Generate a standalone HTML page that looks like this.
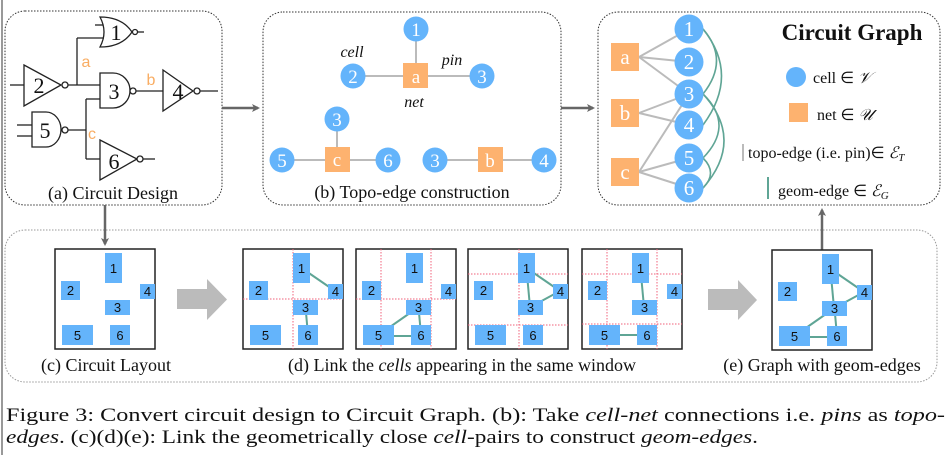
<!DOCTYPE html>
<html><head><meta charset="utf-8"><style>
html,body{margin:0;padding:0;background:#fff;width:949px;height:455px;overflow:hidden}
svg{display:block;font-family:"Liberation Serif","Times New Roman",Times,serif}
.s,.s text,.s tspan{font-family:"Liberation Serif","Times New Roman",Times,serif}
.ss,.ss text{font-family:"Liberation Sans",Arial,Helvetica,sans-serif}
</style></head><body>
<svg width="949" height="455" viewBox="0 0 949 455" xmlns="http://www.w3.org/2000/svg" font-family="Liberation Serif, Times New Roman, serif">
<defs>
<marker id="ah" markerWidth="8" markerHeight="8" refX="6" refY="4" orient="auto" markerUnits="userSpaceOnUse"><path d="M0,0 L8,4 L0,8 L2,4 Z" fill="#666"/></marker>
</defs>
<line x1="2" y1="0" x2="2" y2="455" stroke="#999" stroke-width="2"/>
<g fill="none" stroke="#333" stroke-width="1" stroke-dasharray="1.5,1.5">
<rect x="5" y="11" width="217" height="194" rx="20"/>
<rect x="263" y="12" width="298" height="193" rx="20"/>
<rect x="598" y="12" width="342" height="193" rx="20"/>
</g>
<rect x="5" y="230" width="932" height="152" rx="20" fill="none" stroke="#999" stroke-width="1" stroke-dasharray="1.5,1.5"/>
<g stroke="#666" stroke-width="2.5" fill="none">
<line x1="222" y1="108" x2="258" y2="108" marker-end="url(#ah)"/>
<line x1="561" y1="108" x2="593" y2="108" marker-end="url(#ah)"/>
<line x1="105" y1="205" x2="105" y2="244" marker-end="url(#ah)"/>
<line x1="822" y1="250" x2="822" y2="210" marker-end="url(#ah)"/>
</g>
<g stroke="#222" stroke-width="1.3" fill="none">
<path d="M100,17 Q108,32 100,47 Q122,47 132,32 Q122,17 100,17 Z" fill="#fff"/>
<circle cx="135" cy="32" r="2.5" fill="#fff"/><line x1="137.5" y1="32" x2="144" y2="32"/>
<line x1="95" y1="25" x2="103" y2="25"/><line x1="77" y1="38" x2="104" y2="38"/>
<path d="M24,65 L61,85 L24,106 Z" fill="#fff"/>
<circle cx="65" cy="85" r="3" fill="#fff"/>
<line x1="10" y1="85" x2="24" y2="85"/>
<line x1="68" y1="85" x2="100" y2="85"/>
<line x1="77" y1="85" x2="77" y2="38"/>
<path d="M100,73 L113,73 A17,17.5 0 0 1 113,108 L100,108 Z" fill="#fff"/>
<circle cx="133" cy="91" r="3" fill="#fff"/>
<line x1="136" y1="91" x2="163" y2="91"/>
<path d="M163,70 L193,91 L163,111 Z" fill="#fff"/>
<circle cx="197" cy="91" r="3" fill="#fff"/><line x1="200" y1="91" x2="218" y2="91"/>
<line x1="86" y1="99" x2="100" y2="99"/>
<line x1="86" y1="99" x2="86" y2="159"/>
<path d="M32,112 L46,112 A15,17.5 0 0 1 46,147 L32,147 Z" fill="#fff"/>
<circle cx="65" cy="130" r="3" fill="#fff"/>
<line x1="68" y1="130" x2="86" y2="130"/>
<line x1="17" y1="125" x2="32" y2="125"/><line x1="17" y1="136" x2="32" y2="136"/>
<line x1="86" y1="159" x2="100" y2="159"/>
<path d="M100,140 L137,159 L100,180 Z" fill="#fff"/>
<circle cx="140" cy="159" r="3" fill="#fff"/><line x1="143" y1="159" x2="155" y2="159"/>
</g>
<g class="s" font-size="22" fill="#111" text-anchor="middle">
<text x="116" y="40">1</text><text x="39" y="93">2</text><text x="114" y="99">3</text><text x="178" y="99">4</text><text x="45" y="138">5</text><text x="114" y="169">6</text>
</g>
<g class="ss" font-size="16" fill="#f9ad63" text-anchor="middle" font-family="Liberation Sans, Arial, sans-serif">
<text x="86" y="67">a</text><text x="151" y="85">b</text><text x="92" y="139">c</text>
</g>
<text class="s" x="113" y="199" font-size="18" text-anchor="middle" fill="#111">(a) Circuit Design</text>
<g stroke="#bbb" stroke-width="2">
<line x1="416" y1="29" x2="416" y2="75"/><line x1="353" y1="76" x2="482" y2="76"/>
<line x1="337" y1="119" x2="337" y2="160"/><line x1="282" y1="160" x2="388" y2="160"/>
<line x1="435" y1="160" x2="544" y2="160"/>
</g>
<g fill="#64b4fb">
<circle cx="416" cy="29" r="12.5"/><circle cx="353" cy="76" r="12.5"/><circle cx="482" cy="76" r="12.5"/>
<circle cx="337" cy="119" r="12.5"/><circle cx="282" cy="160" r="12.5"/><circle cx="388" cy="160" r="12.5"/>
<circle cx="435" cy="160" r="12.5"/><circle cx="544" cy="160" r="12.5"/>
</g>
<g fill="#fdb26f"><rect x="403" y="63" width="25" height="25"/><rect x="325" y="147" width="25" height="25"/><rect x="478" y="147" width="25" height="25"/></g>
<g class="s" font-size="19" fill="#fff" text-anchor="middle">
<text x="416" y="36">1</text><text x="353" y="83">2</text><text x="482" y="83">3</text><text x="416" y="83">a</text>
<text x="337" y="126">3</text><text x="282" y="167">5</text><text x="388" y="167">6</text><text x="337" y="166">c</text>
<text x="435" y="167">3</text><text x="490" y="167">b</text><text x="544" y="167">4</text>
</g>
<g class="s" font-size="16" font-style="italic" fill="#111" text-anchor="middle">
<text x="352" y="57">cell</text><text x="452" y="65">pin</text><text x="414" y="107">net</text>
</g>
<text class="s" x="412" y="198" font-size="18" text-anchor="middle" fill="#111">(b) Topo-edge construction</text>
<g stroke="#bbb" stroke-width="2">
<line x1="639" y1="57" x2="689" y2="29"/><line x1="639" y1="57" x2="689" y2="62"/><line x1="639" y1="57" x2="689" y2="94"/>
<line x1="639" y1="113" x2="689" y2="94"/><line x1="639" y1="113" x2="689" y2="125"/>
<line x1="639" y1="172" x2="689" y2="94"/><line x1="639" y1="172" x2="689" y2="158"/><line x1="639" y1="172" x2="689" y2="188"/>
</g>
<g stroke="#5fa595" stroke-width="1.6" fill="none">
<path d="M703,29 Q730,60 703,94"/>
<path d="M703,29 Q740,75 703,125"/>
<path d="M703,94 Q735,125 703,158"/>
<path d="M703,94 Q745,140 703,188"/>
<path d="M703,158 Q718,173 703,188"/>
</g>
<g fill="#64b4fb">
<circle cx="689" cy="29" r="14.5"/><circle cx="689" cy="62" r="14.5"/><circle cx="689" cy="94" r="14.5"/>
<circle cx="689" cy="125" r="14.5"/><circle cx="689" cy="158" r="14.5"/><circle cx="689" cy="188" r="14.5"/>
<circle cx="796" cy="77" r="10"/>
</g>
<g fill="#fdb26f"><rect x="611" y="43" width="28" height="28"/><rect x="611" y="99" width="28" height="28"/><rect x="611" y="158" width="28" height="28"/><rect x="789" y="103" width="19" height="19"/></g>
<g class="s" font-size="21" fill="#fff" text-anchor="middle">
<text x="689" y="36">1</text><text x="689" y="69">2</text><text x="689" y="101">3</text><text x="689" y="132">4</text><text x="689" y="165">5</text><text x="689" y="195">6</text>
<text x="625" y="64">a</text><text x="625" y="120">b</text><text x="625" y="179">c</text>
</g>
<text class="s" x="852" y="40" font-size="23" font-weight="bold" text-anchor="middle" fill="#111">Circuit Graph</text>
<g class="s" font-size="16" fill="#111">
<text x="813" y="83">cell ∈ <tspan font-style="italic">𝒱</tspan></text>
<text x="817" y="120">net ∈ <tspan font-style="italic">𝒰</tspan></text>
<text x="748" y="158">topo-edge (i.e. pin)∈ <tspan font-style="italic">ℰ</tspan><tspan font-size="11" font-style="italic" dy="3">T</tspan></text>
<text x="778" y="196">geom-edge ∈ <tspan font-style="italic">ℰ</tspan><tspan font-size="11" font-style="italic" dy="3">G</tspan></text>
</g>
<line x1="743" y1="144" x2="743" y2="161" stroke="#bbb" stroke-width="2"/>
<line x1="768" y1="177" x2="768" y2="199" stroke="#5fa595" stroke-width="2"/>
<g fill="#bbb">
<path d="M177,289 L207,289 L207,279 L227,299.5 L207,320 L207,309 L177,309 Z"/>
<path d="M708,289 L738,289 L738,280 L757,300 L738,320 L738,310 L708,310 Z"/>
</g>
<g transform="translate(55,249)">
<rect x="0" y="0" width="100" height="100" fill="#fff" stroke="#222" stroke-width="1.5"/>
<g fill="#64b4fb"><rect x="50" y="4" width="17" height="30"/><rect x="6" y="32" width="19" height="19"/><rect x="85" y="35" width="15" height="15"/><rect x="50" y="51" width="25" height="15"/><rect x="7" y="76" width="31" height="20"/><rect x="55" y="76" width="20" height="20"/></g>
<g class="ss" font-size="13" fill="#111" text-anchor="middle" font-family="Liberation Sans, Arial, sans-serif"><text x="58.5" y="24">1</text><text x="15.5" y="46">2</text><text x="92.5" y="47">4</text><text x="62.5" y="63">3</text><text x="22.5" y="91">5</text><text x="65" y="91">6</text></g>
</g>
<g transform="translate(243,249)">
<rect x="0" y="0" width="100" height="100" fill="#fff" stroke="#222" stroke-width="1.5"/>
<g stroke="#f0607a" stroke-width="1" stroke-dasharray="1.5,1.5"><line x1="50" y1="0" x2="50" y2="100"/><line x1="0" y1="50" x2="100" y2="50"/></g>
<g stroke="#5fa595" stroke-width="2"><line x1="60" y1="20" x2="92" y2="42"/><line x1="62.5" y1="58" x2="65" y2="86"/></g>
<g fill="#64b4fb"><rect x="50" y="4" width="17" height="30"/><rect x="6" y="32" width="19" height="19"/><rect x="85" y="35" width="15" height="15"/><rect x="50" y="51" width="25" height="15"/><rect x="7" y="76" width="31" height="20"/><rect x="55" y="76" width="20" height="20"/></g>
<g class="ss" font-size="13" fill="#111" text-anchor="middle" font-family="Liberation Sans, Arial, sans-serif"><text x="58.5" y="24">1</text><text x="15.5" y="46">2</text><text x="92.5" y="47">4</text><text x="62.5" y="63">3</text><text x="22.5" y="91">5</text><text x="65" y="91">6</text></g>
</g>
<g transform="translate(356,249)">
<rect x="0" y="0" width="100" height="100" fill="#fff" stroke="#222" stroke-width="1.5"/>
<g stroke="#f0607a" stroke-width="1" stroke-dasharray="1.5,1.5"><line x1="25" y1="0" x2="25" y2="100"/><line x1="75" y1="0" x2="75" y2="100"/><line x1="0" y1="50" x2="100" y2="50"/></g>
<g stroke="#5fa595" stroke-width="2"><line x1="62.5" y1="58" x2="22.5" y2="86"/><line x1="62.5" y1="58" x2="65" y2="86"/><line x1="22.5" y1="87" x2="65" y2="87"/></g>
<g fill="#64b4fb"><rect x="50" y="4" width="17" height="30"/><rect x="6" y="32" width="19" height="19"/><rect x="85" y="35" width="15" height="15"/><rect x="50" y="51" width="25" height="15"/><rect x="7" y="76" width="31" height="20"/><rect x="55" y="76" width="20" height="20"/></g>
<g class="ss" font-size="13" fill="#111" text-anchor="middle" font-family="Liberation Sans, Arial, sans-serif"><text x="58.5" y="24">1</text><text x="15.5" y="46">2</text><text x="92.5" y="47">4</text><text x="62.5" y="63">3</text><text x="22.5" y="91">5</text><text x="65" y="91">6</text></g>
</g>
<g transform="translate(468,249)">
<rect x="0" y="0" width="100" height="100" fill="#fff" stroke="#222" stroke-width="1.5"/>
<g stroke="#f0607a" stroke-width="1" stroke-dasharray="1.5,1.5"><line x1="51" y1="0" x2="51" y2="100"/><line x1="0" y1="25" x2="100" y2="25"/><line x1="0" y1="76" x2="100" y2="76"/></g>
<g stroke="#5fa595" stroke-width="2"><line x1="60" y1="20" x2="92" y2="42"/><line x1="58.5" y1="20" x2="62" y2="58"/><line x1="62.5" y1="58" x2="92" y2="42"/></g>
<g fill="#64b4fb"><rect x="50" y="4" width="17" height="30"/><rect x="6" y="32" width="19" height="19"/><rect x="85" y="35" width="15" height="15"/><rect x="50" y="51" width="25" height="15"/><rect x="7" y="76" width="31" height="20"/><rect x="55" y="76" width="20" height="20"/></g>
<g class="ss" font-size="13" fill="#111" text-anchor="middle" font-family="Liberation Sans, Arial, sans-serif"><text x="58.5" y="24">1</text><text x="15.5" y="46">2</text><text x="92.5" y="47">4</text><text x="62.5" y="63">3</text><text x="22.5" y="91">5</text><text x="65" y="91">6</text></g>
</g>
<g transform="translate(582,249)">
<rect x="0" y="0" width="100" height="100" fill="#fff" stroke="#222" stroke-width="1.5"/>
<g stroke="#f0607a" stroke-width="1" stroke-dasharray="1.5,1.5"><line x1="25" y1="0" x2="25" y2="100"/><line x1="75" y1="0" x2="75" y2="100"/><line x1="0" y1="25" x2="100" y2="25"/><line x1="0" y1="75" x2="100" y2="75"/></g>
<g stroke="#5fa595" stroke-width="2"><line x1="58.5" y1="20" x2="62" y2="58"/><line x1="22.5" y1="86" x2="65" y2="86"/></g>
<g fill="#64b4fb"><rect x="50" y="4" width="17" height="30"/><rect x="6" y="32" width="19" height="19"/><rect x="85" y="35" width="15" height="15"/><rect x="50" y="51" width="25" height="15"/><rect x="7" y="76" width="31" height="20"/><rect x="55" y="76" width="20" height="20"/></g>
<g class="ss" font-size="13" fill="#111" text-anchor="middle" font-family="Liberation Sans, Arial, sans-serif"><text x="58.5" y="24">1</text><text x="15.5" y="46">2</text><text x="92.5" y="47">4</text><text x="62.5" y="63">3</text><text x="22.5" y="91">5</text><text x="65" y="91">6</text></g>
</g>
<g transform="translate(772,250)">
<rect x="0" y="0" width="100" height="100" fill="#fff" stroke="#222" stroke-width="1.5"/>
<g stroke="#5fa595" stroke-width="2"><line x1="60" y1="20" x2="92" y2="42"/><line x1="58.5" y1="20" x2="62" y2="58"/><line x1="62.5" y1="58" x2="92" y2="42"/><line x1="62.5" y1="58" x2="22.5" y2="86"/><line x1="62.5" y1="58" x2="65" y2="86"/><line x1="22.5" y1="87" x2="65" y2="87"/></g>
<g fill="#64b4fb"><rect x="50" y="4" width="17" height="30"/><rect x="6" y="32" width="19" height="19"/><rect x="85" y="35" width="15" height="15"/><rect x="50" y="51" width="25" height="15"/><rect x="7" y="76" width="31" height="20"/><rect x="55" y="76" width="20" height="20"/></g>
<g class="ss" font-size="13" fill="#111" text-anchor="middle" font-family="Liberation Sans, Arial, sans-serif"><text x="58.5" y="24">1</text><text x="15.5" y="46">2</text><text x="92.5" y="47">4</text><text x="62.5" y="63">3</text><text x="22.5" y="91">5</text><text x="65" y="91">6</text></g>
</g>
<g class="s" font-size="18" fill="#111" text-anchor="middle">
<text x="106" y="371">(c) Circuit Layout</text>
<text x="462" y="371">(d) Link the <tspan font-style="italic">cells</tspan> appearing in the same window</text>
<text x="822" y="371">(e) Graph with geom-edges</text>
</g>
<g class="s" font-size="19" fill="#111">
<text x="6" y="421" textLength="939" lengthAdjust="spacingAndGlyphs">Figure 3: Convert circuit design to Circuit Graph. (b): Take <tspan font-style="italic">cell-net</tspan> connections i.e. <tspan font-style="italic">pins</tspan> as <tspan font-style="italic">topo-</tspan></text>
<text x="6" y="443" textLength="752" lengthAdjust="spacingAndGlyphs"><tspan font-style="italic">edges</tspan>. (c)(d)(e): Link the geometrically close <tspan font-style="italic">cell</tspan>-pairs to construct <tspan font-style="italic">geom-edges</tspan>.</text>
</g>
</svg>
</body></html>
